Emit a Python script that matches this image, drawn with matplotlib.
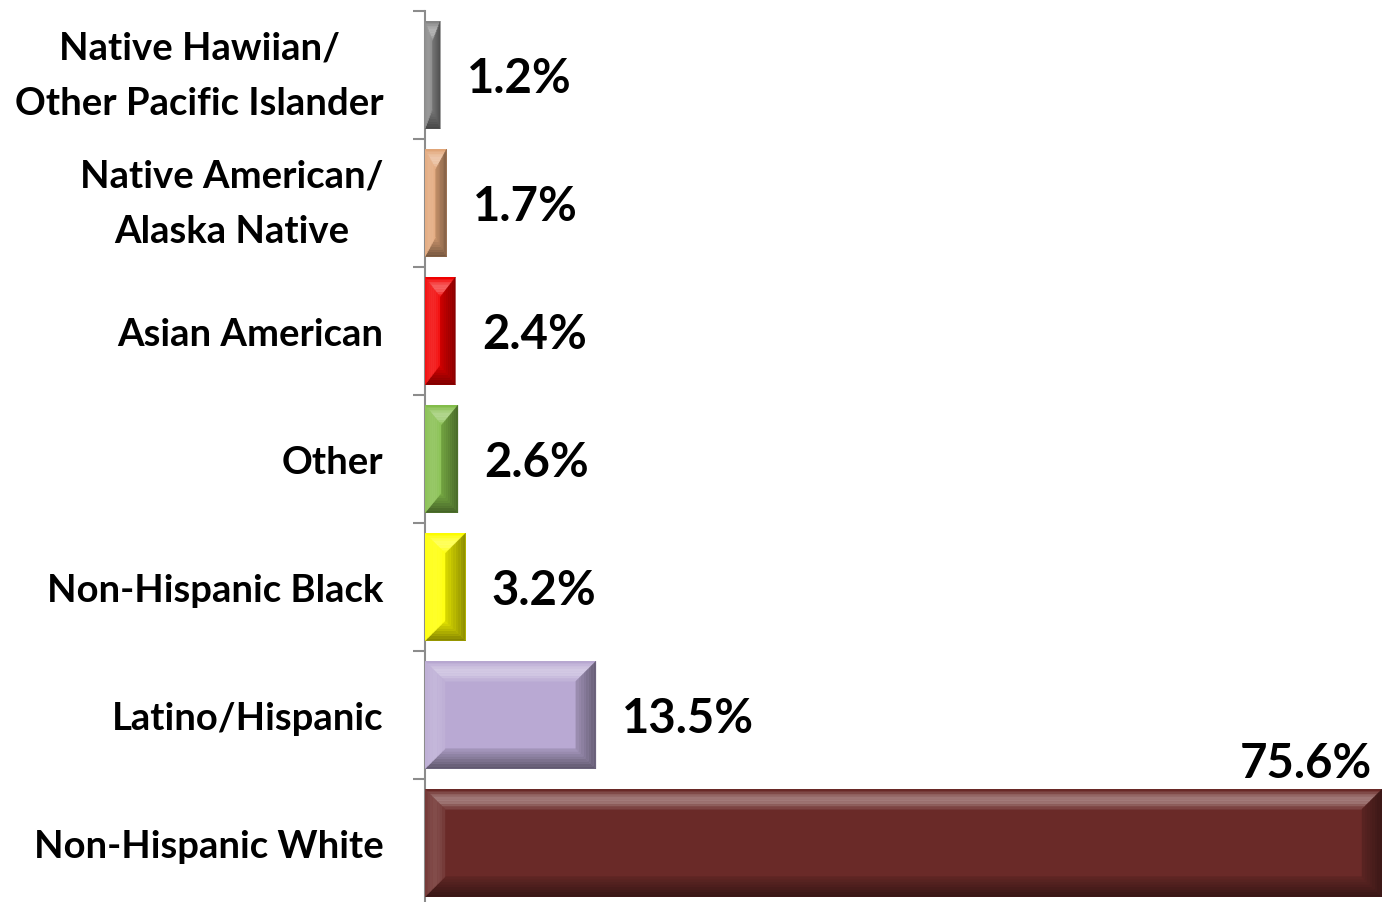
import matplotlib
matplotlib.use("Agg")
import matplotlib.pyplot as plt
from matplotlib.patches import Polygon
from matplotlib.colors import to_rgb
import numpy as np

categories = ["Native Hawiian/\nOther Pacific Islander",
              "Native American/\nAlaska Native",
              "Asian American",
              "Other",
              "Non-Hispanic Black",
              "Latino/Hispanic",
              "Non-Hispanic White"]
values = [1.2, 1.7, 2.4, 2.6, 3.2, 13.5, 75.6]
value_labels = ["1.2%", "1.7%", "2.4%", "2.6%", "3.2%", "13.5%", "75.6%"]
colors = ["#878787", "#E3A77A", "#F20000", "#84BE4B", "#FFFF00", "#B9A9D3", "#6A2A28"]

FONT = "Lato"
W, H, DPI = 1382, 903, 100
fig = plt.figure(figsize=(W / DPI, H / DPI), dpi=DPI)
ax = fig.add_axes([425 / W, (903 - 908) / H, 957 / W, 896 / H])

n = len(categories)
ypos = np.arange(n)
bar_h = 0.84
bars = ax.barh(ypos, values, height=bar_h, color=colors, edgecolor="none", zorder=2)

ax.set_xlim(0, 75.6)
ax.set_ylim(n - 0.5, -0.5)

for s in ["top", "right", "bottom"]:
    ax.spines[s].set_visible(False)
ax.spines["left"].set_color("#8C8C8C")
ax.spines["left"].set_linewidth(1.5)
ax.set_xticks([])
ax.set_yticks(ypos)
ax.set_yticklabels(categories, fontfamily=FONT, fontweight="bold", fontsize=27.5)
for lbl in ax.get_yticklabels():
    lbl.set_multialignment("center")
    lbl.set_linespacing(1.75)
    if "\n" in lbl.get_text():
        lbl.set_verticalalignment("center")
ax.set_yticks(np.arange(-0.5, n, 1.0), minor=True)
ax.tick_params(axis="y", which="major", length=0, pad=30)
ax.tick_params(axis="y", which="minor", length=9, width=1.5, color="#8C8C8C")

# bevel effect derived from each bar's geometry
fig.canvas.draw()
inv = ax.transData.inverted()


def shade(c, amt):
    c = np.array(to_rgb(c))
    if amt >= 0:
        return tuple(c + (1 - c) * amt)
    return tuple(c * (1 + amt))


B = 20.0
NS = 8
for p, c in zip(bars.patches, colors):
    bb = p.get_window_extent()
    x0, y0, x1, y1 = bb.x0, bb.y0, bb.x1, bb.y1
    bx = min(B, (x1 - x0) / 2)
    by = min(B, (y1 - y0) / 2)
    for k in range(NS):
        t0, t1 = k / NS, (k + 1) / NS
        tm = (t0 + t1) / 2
        o = (x0 + t0 * bx, y0 + t0 * by, x1 - t0 * bx, y1 - t0 * by)
        i = (x0 + t1 * bx, y0 + t1 * by, x1 - t1 * bx, y1 - t1 * by)
        sides = {
            "top": ([(o[0], o[3]), (o[2], o[3]), (i[2], i[3]), (i[0], i[3])],
                    0.05 + 0.4 * np.sin(np.pi * tm) - 0.15 * (1 - tm)),
            "bottom": ([(o[0], o[1]), (o[2], o[1]), (i[2], i[1]), (i[0], i[1])],
                       -0.5 + 0.4 * tm),
            "left": ([(o[0], o[1]), (o[0], o[3]), (i[0], i[3]), (i[0], i[1])],
                     0.06 + 0.1 * np.sin(np.pi * tm)),
            "right": ([(o[2], o[1]), (o[2], o[3]), (i[2], i[3]), (i[2], i[1])],
                      -0.45 + 0.3 * tm),
        }
        for name, (pts, amt) in sides.items():
            dpts = inv.transform(pts)
            ax.add_patch(Polygon(dpts, closed=True, facecolor=shade(c, amt),
                                 edgecolor=shade(c, amt), linewidth=0.3, zorder=3))

for yv, v, lab in zip(ypos, values, value_labels):
    if v > 0.8 * ax.get_xlim()[1]:
        ax.annotate(lab, xy=(v, yv - bar_h / 2), xytext=(-7, 3), textcoords="offset points",
                    ha="right", va="bottom", fontsize=34, fontfamily=FONT,
                    fontweight="bold", color="black", annotation_clip=False)
    else:
        ax.annotate(lab, xy=(v, yv), xytext=(19, -2), textcoords="offset points",
                    ha="left", va="center", fontsize=34, fontfamily=FONT,
                    fontweight="bold", color="black", annotation_clip=False)

fig.savefig("out.png", dpi=DPI, facecolor="white")
